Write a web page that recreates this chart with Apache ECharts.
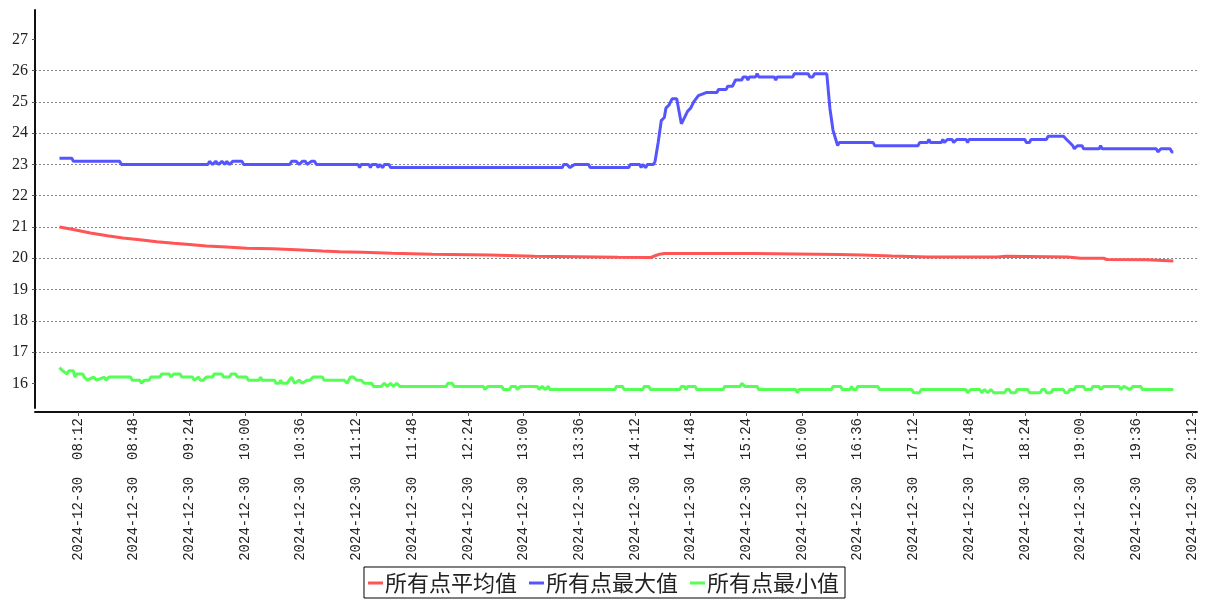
<!DOCTYPE html>
<html><head><meta charset="utf-8">
<script src="https://cdn.jsdelivr.net/npm/echarts@6/dist/echarts.min.js"></script>
<style>html,body{margin:0;padding:0;background:#fff}#c{width:1207px;height:600px}</style>
</head><body><div id="c"></div>
<script>
const seriesNames = ['所有点平均值', '所有点最大值', '所有点最小值'];
const dateLabel = '2024-12-30';
const xTickLabels = ['08:12','08:48','09:24','10:00','10:36','11:12','11:48','12:24','13:00','13:36','14:12','14:48','15:24','16:00','16:36','17:12','17:48','18:24','19:00','19:36','20:12'];
const yTickValues = [16,17,18,19,20,21,22,23,24,25,26,27];

const avgTimes = ['08:00','08:09','08:20','08:31','08:41','08:52','09:03','09:14','09:24','09:35','09:48','10:01','10:18','10:33','10:50','11:01','11:16','11:35','12:01','12:38','13:07','14:01','14:22','14:25','14:28','14:31','15:07','15:08','15:10','15:29','15:30','16:24','16:25','16:39','16:40','16:58','16:59','17:21','17:22','17:23','18:06','18:07','18:12','18:13','18:52','18:53','19:00','19:15','19:16','19:17','19:43','19:44','20:00'];
const avgValues = [21.0,20.92,20.81,20.72,20.65,20.59,20.53,20.48,20.44,20.39,20.36,20.32,20.30,20.27,20.23,20.21,20.19,20.16,20.13,20.10,20.06,20.03,20.02,20.08,20.13,20.15,20.15,20.13,20.15,20.15,20.12,20.12,20.10,20.10,20.07,20.07,20.04,20.04,20.06,20.04,20.04,20.06,20.06,20.04,20.04,20.01,20.00,20.00,19.97,19.96,19.95,19.92,19.91];

const maxTimes = ['08:00','08:08','08:09','08:39','08:40','09:36','09:37','09:39','09:41','09:43','09:45','09:47','09:48','09:50','09:52','09:58','09:59','10:29','10:30','10:33','10:35','10:37','10:39','10:40','10:43','10:45','10:46','11:13','11:14','11:15','11:20','11:21','11:22','11:25','11:26','11:27','11:29','11:30','11:33','11:34','13:25','13:26','13:28','13:30','13:31','13:33','13:42','13:43','14:08','14:09','14:15','14:16','14:17','14:18','14:19','14:20','14:24','14:25','14:26','14:27','14:29','14:31','14:32','14:34','14:36','14:39','14:42','14:44','14:46','14:48','14:50','14:53','14:58','15:05','15:06','15:11','15:12','15:15','15:16','15:17','15:21','15:22','15:24','15:25','15:26','15:30','15:31','15:32','15:42','15:43','15:44','15:54','15:55','16:04','16:05','16:07','16:08','16:16','16:18','16:20','16:23','16:24','16:46','16:47','17:15','17:16','17:21','17:22','17:23','17:30','17:31','17:32','17:34','17:37','17:38','17:40','17:46','17:47','17:48','18:24','18:25','18:27','18:28','18:38','18:39','18:49','18:51','18:53','18:55','18:56','18:58','19:01','19:02','19:12','19:13','19:14','19:49','19:50','19:52','19:58','19:59','20:00'];
const maxValues = [23.2,23.2,23.1,23.1,23.0,23.0,23.1,23.0,23.1,23.0,23.1,23.0,23.1,23.0,23.1,23.1,23.0,23.0,23.1,23.1,23.0,23.1,23.1,23.0,23.1,23.1,23.0,23.0,22.9,23.0,23.0,22.9,23.0,23.0,22.9,23.0,22.9,23.0,23.0,22.9,22.9,23.0,23.0,22.9,22.9,23.0,23.0,22.9,22.9,23.0,23.0,22.9,23.0,23.0,22.9,23.0,23.0,23.1,23.1,23.7,24.4,24.5,24.8,24.9,25.1,25.1,24.3,24.5,24.7,24.8,25.0,25.2,25.3,25.3,25.4,25.4,25.5,25.5,25.6,25.7,25.7,25.8,25.8,25.7,25.8,25.8,25.9,25.8,25.8,25.7,25.8,25.8,25.9,25.9,25.8,25.8,25.9,25.9,24.8,24.1,23.6,23.7,23.7,23.6,23.6,23.7,23.7,23.8,23.7,23.7,23.8,23.7,23.8,23.8,23.7,23.8,23.8,23.7,23.8,23.8,23.7,23.7,23.8,23.8,23.9,23.9,23.8,23.7,23.6,23.5,23.6,23.6,23.5,23.5,23.6,23.5,23.5,23.4,23.5,23.5,23.4,23.4];

const minTimes = ['08:00','08:02','08:05','08:06','08:09','08:10','08:11','08:15','08:16','08:18','08:22','08:23','08:24','08:29','08:30','08:32','08:46','08:47','08:52','08:53','08:55','08:58','08:59','09:05','09:06','09:11','09:12','09:13','09:14','09:18','09:19','09:26','09:27','09:30','09:31','09:33','09:35','09:39','09:40','09:45','09:46','09:50','09:51','09:54','09:55','10:01','10:02','10:09','10:10','10:11','10:19','10:20','10:22','10:23','10:24','10:27','10:30','10:32','10:35','10:37','10:40','10:42','10:44','10:50','10:51','11:04','11:06','11:08','11:10','11:12','11:15','11:17','11:22','11:23','11:28','11:30','11:32','11:34','11:36','11:38','11:40','12:10','12:11','12:14','12:15','12:34','12:35','12:37','12:46','12:47','12:51','12:52','12:55','12:56','12:58','13:09','13:10','13:12','13:14','13:16','13:17','13:59','14:00','14:04','14:05','14:17','14:18','14:21','14:22','14:41','14:42','14:44','14:45','14:46','14:51','14:52','15:09','15:10','15:20','15:21','15:23','15:31','15:32','15:56','15:57','15:58','16:19','16:20','16:25','16:26','16:31','16:32','16:33','16:35','16:36','16:49','16:50','17:11','17:12','17:16','17:17','17:46','17:47','17:49','17:55','17:56','17:58','18:00','18:02','18:04','18:11','18:12','18:14','18:15','18:18','18:19','18:26','18:27','18:34','18:35','18:37','18:38','18:41','18:42','18:49','18:50','18:52','18:53','18:56','18:57','19:02','19:03','19:07','19:08','19:12','19:13','19:15','19:25','19:26','19:28','19:32','19:34','19:39','19:40','20:00'];
const minValues = [16.5,16.4,16.3,16.4,16.4,16.2,16.3,16.3,16.2,16.1,16.2,16.2,16.1,16.2,16.1,16.2,16.2,16.1,16.1,16.0,16.1,16.1,16.2,16.2,16.3,16.3,16.2,16.2,16.3,16.3,16.2,16.2,16.1,16.2,16.1,16.1,16.2,16.2,16.3,16.3,16.2,16.2,16.3,16.3,16.2,16.2,16.1,16.1,16.2,16.1,16.1,16.0,16.0,16.1,16.0,16.0,16.2,16.0,16.1,16.0,16.1,16.1,16.2,16.2,16.1,16.1,16.0,16.2,16.2,16.1,16.1,16.0,16.0,15.9,15.9,16.0,15.9,16.0,15.9,16.0,15.9,15.9,16.0,16.0,15.9,15.9,15.8,15.9,15.9,15.8,15.8,15.9,15.9,15.8,15.9,15.9,15.8,15.9,15.8,15.9,15.8,15.8,15.9,15.9,15.8,15.8,15.9,15.9,15.8,15.8,15.9,15.9,15.8,15.9,15.9,15.8,15.8,15.9,15.9,16.0,15.9,15.9,15.8,15.8,15.7,15.8,15.8,15.9,15.9,15.8,15.8,15.9,15.8,15.8,15.9,15.9,15.8,15.8,15.7,15.7,15.8,15.8,15.7,15.8,15.8,15.7,15.8,15.7,15.8,15.7,15.7,15.8,15.8,15.7,15.7,15.8,15.8,15.7,15.7,15.8,15.8,15.7,15.7,15.8,15.8,15.7,15.7,15.8,15.8,15.9,15.9,15.8,15.8,15.9,15.9,15.8,15.9,15.9,15.8,15.9,15.8,15.9,15.9,15.8,15.8];

function toMin(s) { const p = s.split(':'); return (+p[0]) * 60 + (+p[1]); }
function pad(n) { return (n < 10 ? '0' : '') + n; }
function fmt(v) { const m = Math.round(v); return dateLabel + '  ' + pad(Math.floor(m / 60)) + ':' + pad(m % 60); }
function pairs(times, vals) { return times.map((t, i) => [toMin(t), vals[i]]); }

const colors = ['#ff5555', '#5555ff', '#55ff55'];
const xTicks = xTickLabels.map(toMin);
const mono = '"Liberation Mono", "DejaVu Sans Mono", monospace';
const serif = '"Liberation Serif", "DejaVu Serif", serif';

const chart = echarts.init(document.getElementById('c'), null, { renderer: 'canvas' });
chart.setOption({
  animation: false,
  backgroundColor: '#fff',
  color: colors,
  grid: { left: 35, right: 10, top: 10, bottom: 192, containLabel: false },
  xAxis: {
    type: 'value', min: toMin('07:44') + 0.2, max: toMin('20:15') + 0.3, offset: 4,
    axisLine: { show: true, lineStyle: { color: '#111', width: 2 } },
    axisTick: { show: true, length: 4, lineStyle: { color: '#555' }, customValues: xTicks },
    axisLabel: { rotate: 90, margin: 6, fontFamily: mono, fontSize: 14, color: '#222', customValues: xTicks, formatter: fmt },
    splitLine: { show: false }
  },
  yAxis: {
    type: 'value', min: 15.21, max: 27.94, interval: 1,
    axisLine: { show: true, lineStyle: { color: '#111', width: 2 } },
    axisTick: { show: true, length: 3, lineStyle: { color: '#555' }, customValues: yTickValues },
    axisLabel: { margin: 7, fontFamily: serif, fontSize: 16, color: '#222', customValues: yTickValues },
    splitLine: { show: true, showMinLine: false, showMaxLine: false, lineStyle: { color: '#888', type: [2, 2], width: 1 } }
  },
  legend: {
    data: seriesNames, left: 'center', bottom: 2, icon: 'rect', itemWidth: 15, itemHeight: 3, itemGap: 12,
    borderColor: '#000', borderWidth: 1, padding: [5, 6, 4, 4],
    textStyle: { fontFamily: '"Noto Sans CJK SC"', fontSize: 22, color: '#222', padding: [0, 0, 0, -3] }
  },
  series: [
    { name: seriesNames[0], type: 'line', showSymbol: false, symbol: 'none', data: pairs(avgTimes, avgValues), lineStyle: { width: 3 } },
    { name: seriesNames[1], type: 'line', showSymbol: false, symbol: 'none', data: pairs(maxTimes, maxValues), lineStyle: { width: 3 } },
    { name: seriesNames[2], type: 'line', showSymbol: false, symbol: 'none', data: pairs(minTimes, minValues), lineStyle: { width: 3 } }
  ]
});
</script></body></html>
